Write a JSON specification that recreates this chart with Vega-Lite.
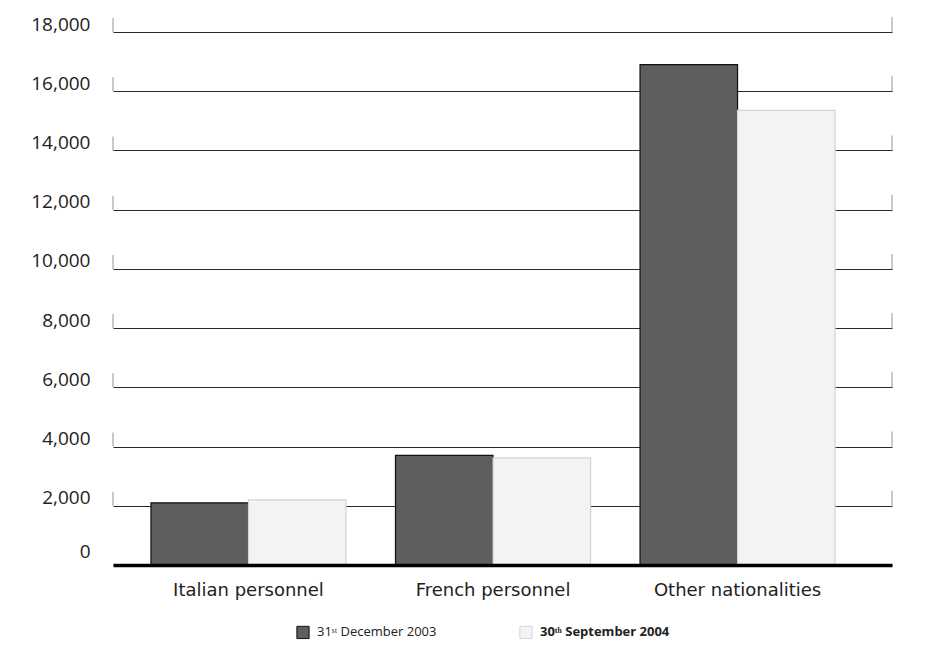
{
  "$schema": "https://vega.github.io/schema/vega-lite/v6.json",
  "autosize": {"type": "none"},
  "width": 779,
  "height": 533,
  "padding": {"left": 113, "top": 32, "right": 49, "bottom": 102},
  "background": "white",
  "config": {"view": {"stroke": null}, "font": "Open Sans"},
  "data": {
    "values": [
      {"category": "Italian personnel", "series": "31ˢᵗ December 2003", "value": 2100},
      {"category": "Italian personnel", "series": "30ᵗʰ September 2004", "value": 2200},
      {"category": "French personnel", "series": "31ˢᵗ December 2003", "value": 3700},
      {"category": "French personnel", "series": "30ᵗʰ September 2004", "value": 3620},
      {"category": "Other nationalities", "series": "31ˢᵗ December 2003", "value": 16900},
      {"category": "Other nationalities", "series": "30ᵗʰ September 2004", "value": 15350}
    ]
  },
  "layer": [
    {
      "mark": {"type": "bar", "strokeWidth": 1.2},
      "encoding": {
        "x": {
          "field": "category",
          "type": "nominal",
          "sort": ["Italian personnel", "French personnel", "Other nationalities"],
          "scale": {"paddingInner": 0.2025, "paddingOuter": 0.194, "align": 0.4},
          "axis": {
            "title": null,
            "domain": true,
            "domainColor": "#000",
            "domainWidth": 3.5,
            "ticks": false,
            "labelAngle": 0,
            "labelPadding": 16,
            "labelFont": "DejaVu Sans",
            "labelFontSize": 18,
            "labelColor": "#222",
            "zindex": 1
          }
        },
        "xOffset": {
          "field": "series",
          "sort": ["31ˢᵗ December 2003", "30ᵗʰ September 2004"],
          "scale": {"paddingInner": 0, "paddingOuter": 0}
        },
        "y": {
          "field": "value",
          "type": "quantitative",
          "scale": {"domain": [0, 18000], "nice": false},
          "axis": {
            "title": null,
            "values": [0, 2000, 4000, 6000, 8000, 10000, 12000, 14000, 16000, 18000],
            "format": ",d",
            "grid": true,
            "gridColor": "#2a2a2a",
            "gridWidth": 1,
            "domain": false,
            "ticks": false,
            "labelPadding": 23,
            "labelFont": "Open Sans",
            "labelFontSize": 19,
            "labelColor": "#222",
            "labelOffset": {"condition": {"test": "datum.value === 0", "value": -14}, "value": -8}
          }
        },
        "fill": {
          "field": "series",
          "type": "nominal",
          "sort": ["31ˢᵗ December 2003", "30ᵗʰ September 2004"],
          "scale": {"range": ["#5e5e5e", "#f3f3f3"]},
          "legend": {
            "title": null,
            "orient": "none",
            "direction": "horizontal",
            "legendX": 183,
            "legendY": 593,
            "symbolType": "square",
            "symbolSize": 150,
            "symbolStrokeWidth": 1,
            "labelFont": "Open Sans",
            "labelFontSize": 13,
            "labelColor": "#222",
            "labelOffset": 7,
            "columnPadding": 80,
            "encode": {
              "symbols": {"update": {"stroke": {"signal": "datum.value === '30ᵗʰ September 2004' ? '#d4d4d4' : '#111111'"}}},
              "labels": {"update": {"fontWeight": {"signal": "datum.value === '30ᵗʰ September 2004' ? 'bold' : 'normal'"}}}
            }
          }
        },
        "stroke": {
          "field": "series",
          "type": "nominal",
          "sort": ["31ˢᵗ December 2003", "30ᵗʰ September 2004"],
          "scale": {"range": ["#111111", "#d4d4d4"]},
          "legend": null
        }
      }
    },
    {
      "data": {"values": [{"level": 2000}, {"level": 4000}, {"level": 6000}, {"level": 8000}, {"level": 10000}, {"level": 12000}, {"level": 14000}, {"level": 16000}, {"level": 18000}]},
      "mark": {"type": "tick", "orient": "vertical", "size": 14, "thickness": 1, "yOffset": -7, "color": "#666"},
      "encoding": {"y": {"field": "level", "type": "quantitative"}, "x": {"value": 0}}
    },
    {
      "data": {"values": [{"level": 2000}, {"level": 4000}, {"level": 6000}, {"level": 8000}, {"level": 10000}, {"level": 12000}, {"level": 14000}, {"level": 16000}, {"level": 18000}]},
      "mark": {"type": "tick", "orient": "vertical", "size": 15, "thickness": 1, "yOffset": -7.5, "color": "#666"},
      "encoding": {"y": {"field": "level", "type": "quantitative"}, "x": {"value": "width"}}
    }
  ]
}
